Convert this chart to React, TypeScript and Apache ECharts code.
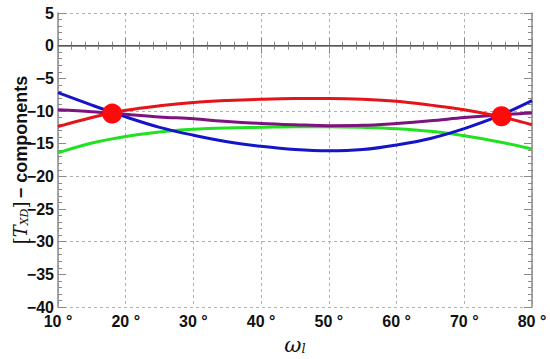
import React, { useEffect, useRef } from "react";
import * as echarts from "echarts";

const xs = [10, 15, 20, 25, 30, 35, 40, 45, 50, 55, 60, 65, 70, 75, 80];
const redVals = [-12.4, -11.0, -9.9, -9.2, -8.7, -8.4, -8.2, -8.1, -8.1, -8.2, -8.5, -9.1, -9.8, -10.8, -12.1];
const purpleVals = [-9.8, -10.1, -10.5, -10.9, -11.2, -11.6, -11.9, -12.1, -12.25, -12.2, -11.9, -11.5, -11.0, -10.6, -10.3];
const blueVals = [-7.2, -9.1, -10.9, -12.5, -13.7, -14.7, -15.4, -15.9, -16.1, -15.9, -15.2, -14.2, -12.7, -10.8, -8.4];
const greenVals = [-16.4, -14.9, -13.9, -13.2, -12.8, -12.6, -12.5, -12.4, -12.4, -12.5, -12.7, -13.1, -13.8, -14.7, -15.8];
const dotX = [18, 75.5];
const dotY = [-10.4, -10.8];

const pairs = (v: number[]) => xs.map((x, i) => [x, v[i]]);

export default function App() {
  const ref = useRef<HTMLDivElement>(null);
  useEffect(() => {
    const chart = echarts.init(ref.current!, null, { renderer: "svg" });
    const axisCol = "#8a8a8a";
    const labelStyle = {
      fontFamily: "Liberation Sans, Arial, sans-serif",
      fontWeight: "bold" as const,
      fontSize: 16,
      color: "#111",
    };
    const lineSeries = (name: string, v: number[], color: string) => ({
      name,
      type: "line",
      data: pairs(v),
      smooth: 0.35,
      showSymbol: false,
      lineStyle: { color, width: 3 },
      z: 3,
    });
    chart.setOption({
      animation: false,
      grid: { left: 58, right: 18, top: 13, bottom: 52, outerBoundsMode: "none", containLabel: false },
      xAxis: [
        {
          type: "value",
          min: 10,
          max: 80,
          interval: 10,
          position: "bottom",
          axisLine: { lineStyle: { color: axisCol, width: 1.5 } },
          axisTick: { inside: true, length: 8, lineStyle: { color: axisCol } },
          minorTick: { show: true, splitNumber: 5, length: 4, lineStyle: { color: axisCol } },
          splitLine: { show: true, lineStyle: { color: "#b0b0b0", type: [3, 3] } },
          axisLabel: { ...labelStyle, margin: 6, formatter: (v: number) => v + " °" },
          name: "{w|ω}{l|l}",
          nameLocation: "middle",
          nameGap: 27,
          nameMoveOverlap: false,
          nameTextStyle: {
            rich: {
              w: { fontFamily: "DejaVu Serif, serif", fontStyle: "italic", fontSize: 21, color: "#111" },
              l: { fontFamily: "DejaVu Serif, serif", fontStyle: "italic", fontSize: 13, color: "#111", padding: [7, 0, 0, 0] },
            },
          },
        },
        {
          type: "value",
          min: 10,
          max: 80,
          interval: 10,
          position: "top",
          axisLine: { lineStyle: { color: axisCol, width: 1.5 } },
          axisTick: { inside: true, length: 8, lineStyle: { color: axisCol } },
          minorTick: { show: true, splitNumber: 5, length: 4, lineStyle: { color: axisCol } },
          splitLine: { show: false },
          axisLabel: { show: false },
        },
      ],
      yAxis: [
        {
          type: "value",
          min: -40,
          max: 5,
          interval: 5,
          position: "left",
          axisLine: { show: true, lineStyle: { color: axisCol, width: 1.5 } },
          axisTick: { show: true, inside: true, length: 8, lineStyle: { color: axisCol } },
          minorTick: { show: true, splitNumber: 5, length: 4, lineStyle: { color: axisCol } },
          splitLine: { show: false },
          axisLabel: {
            ...labelStyle,
            margin: 4,
            formatter: (v: number) => String(v).replace("-", "−"),
          },
          name: "{b|[}{t|T}{s|XD}{b|]} {c|− components}",
          nameLocation: "middle",
          nameRotate: 90,
          nameGap: 28,
          nameMoveOverlap: false,
          nameTextStyle: {
            rich: {
              b: { fontFamily: "DejaVu Serif, serif", fontSize: 18, color: "#111" },
              t: { fontFamily: "DejaVu Serif, serif", fontStyle: "italic", fontSize: 18, color: "#111" },
              s: { fontFamily: "DejaVu Serif, serif", fontStyle: "italic", fontSize: 11, color: "#111", padding: [8, 0, 0, 0] },
              c: { fontFamily: "Liberation Sans, Arial, sans-serif", fontWeight: "bold", fontSize: 18, color: "#111" },
            },
          },
        },
        {
          type: "value",
          min: -40,
          max: 5,
          interval: 5,
          position: "right",
          axisLine: { show: true, lineStyle: { color: axisCol, width: 1.5 } },
          axisTick: { show: true, inside: true, length: 8, lineStyle: { color: axisCol } },
          minorTick: { show: true, splitNumber: 5, length: 4, lineStyle: { color: axisCol } },
          splitLine: { show: false },
          axisLabel: { show: false },
        },
        {
          type: "value",
          min: -40,
          max: 5,
          interval: 10,
          position: "left",
          axisLine: { show: false },
          axisTick: { show: false },
          axisLabel: { show: false },
          splitLine: { show: true, lineStyle: { color: "#b0b0b0", type: [3, 3] } },
        },
      ],
      series: [
        {
          type: "line",
          data: [],
          markLine: {
            silent: true,
            symbol: "none",
            label: { show: false },
            lineStyle: { color: "#555", type: "solid", width: 1 },
            data: [{ yAxis: 0 }],
          },
        },
        lineSeries("green", greenVals, "#22e022"),
        lineSeries("blue", blueVals, "#1414c8"),
        lineSeries("purple", purpleVals, "#7d137f"),
        lineSeries("red", redVals, "#e4141b"),
        {
          type: "scatter",
          data: dotX.map((x, i) => [x, dotY[i]]),
          symbolSize: 20,
          itemStyle: { color: "#ff0a0a", opacity: 1 },
          z: 5,
        },
      ],
    });
    return () => chart.dispose();
  }, []);
  return <div ref={ref} style={{ width: 550, height: 359, position: "absolute", left: 0, top: 0 }} />;
}
